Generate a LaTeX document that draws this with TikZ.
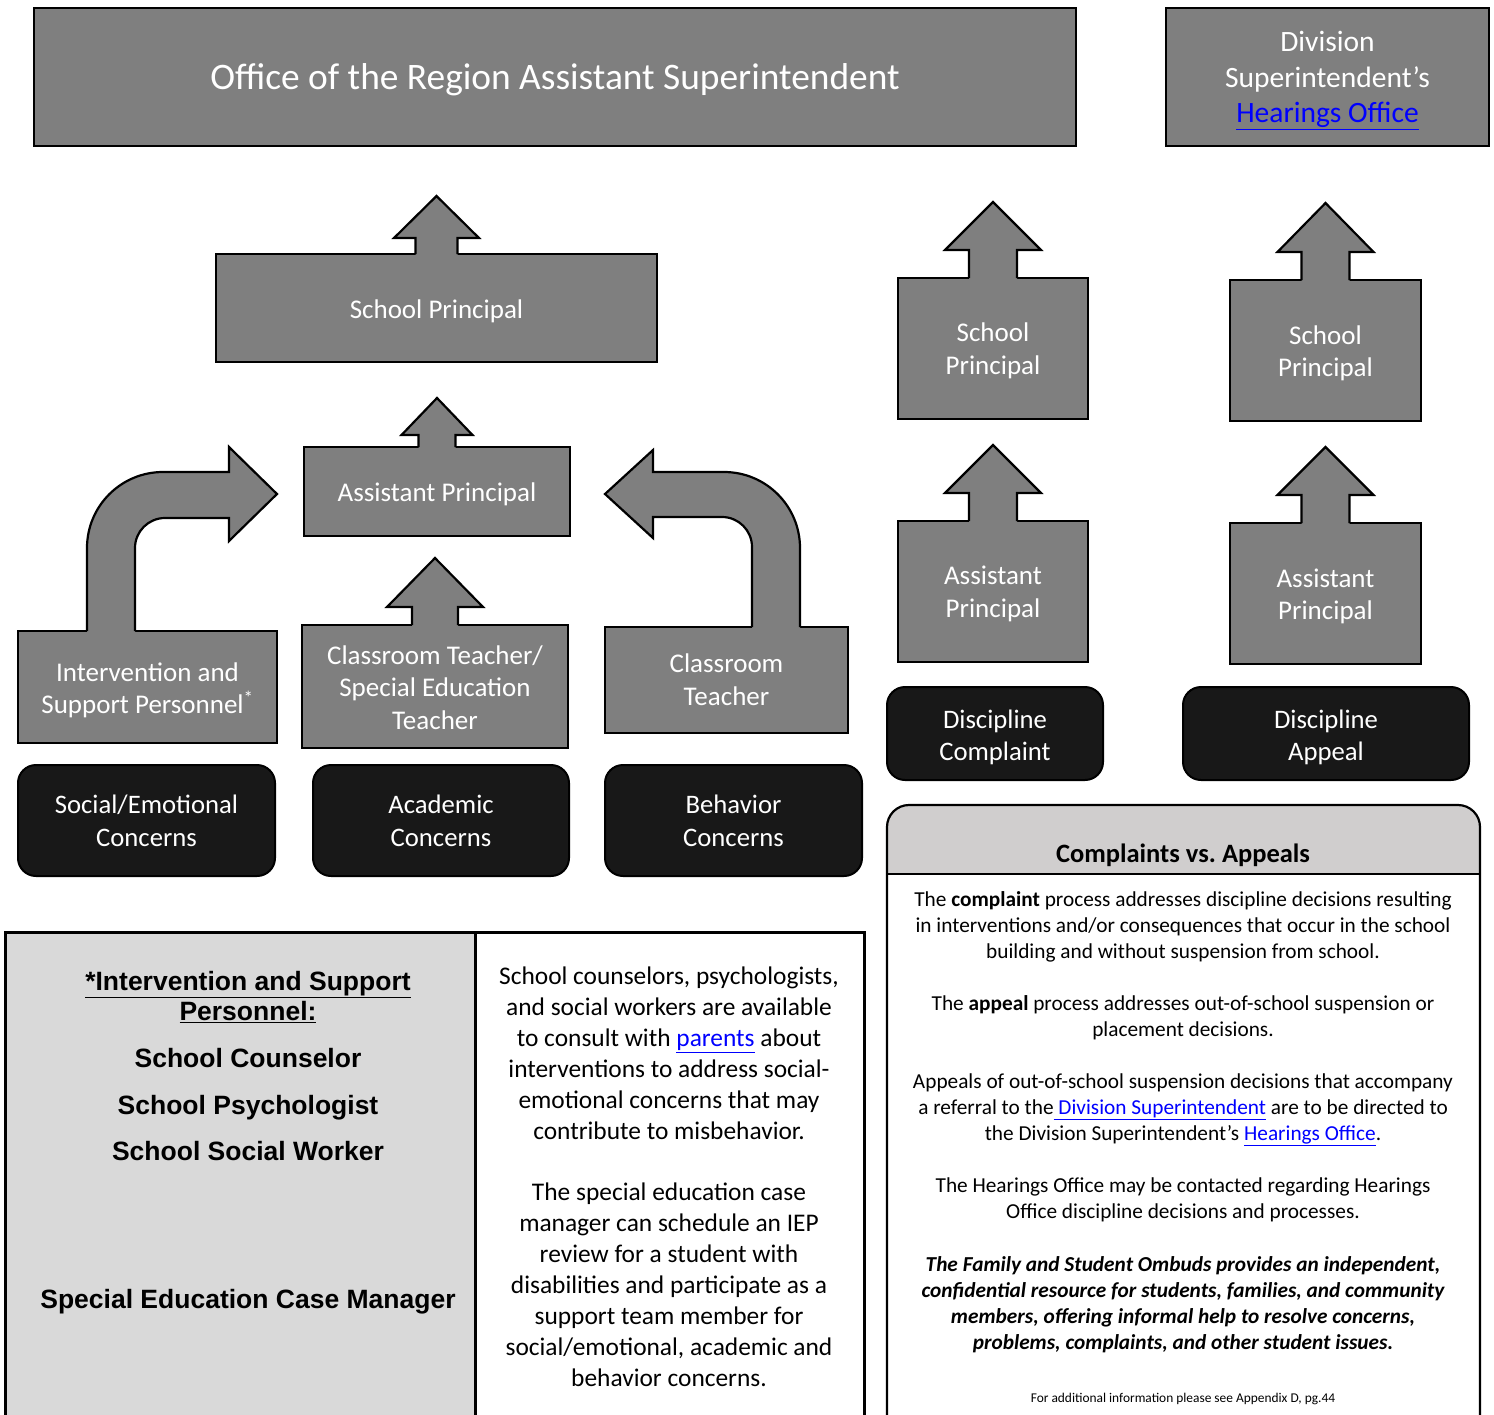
\documentclass[tikz,border=0pt]{standalone}
\usepackage{fontspec}
\setmainfont{Carlito}
\newfontfamily\arialfont{Liberation Sans}
\usetikzlibrary{calc}
\definecolor{boxgray}{HTML}{7F7F7F}
\definecolor{boxblack}{HTML}{181818}
\definecolor{panelgray}{HTML}{D9D9D9}
\definecolor{headgray}{HTML}{D0CECE}
\definecolor{linkblue}{HTML}{0000FF}
\newcommand{\lnk}[1]{\textcolor{linkblue}{\underline{#1}}}
\tikzset{
  gbox/.style={draw=black, line width=2.2pt, fill=boxgray, inner sep=0pt, outer sep=0pt},
  bbox/.style={draw=black, line width=2pt, fill=boxblack, rounded corners=18pt, inner sep=0pt, outer sep=0pt},
  gtext/.style={text=white, inner sep=0pt, align=center, font=\fontsize{27}{32.5}\selectfont, text height=17.4pt, text depth=0pt},
  gtexttwo/.style={gtext, text height=49.9pt},
  gtextthree/.style={gtext, text height=82.4pt},
  btext/.style={text=white, inner sep=0pt, align=center, font=\fontsize{26.7}{32.5}\selectfont, text height=49.7pt, text depth=0pt},
  arrowline/.style={draw=black, line width=2.2pt, line join=miter},
  pics/uparrow/.style n args={4}{code={
    \fill[boxgray] (-#1,2) -- (-#1,-#3) -- (-#2,-#3) -- (0,-#4) -- (#2,-#3) -- (#1,-#3) -- (#1,2) -- cycle;
    \draw[arrowline] (-#1,0) -- (-#1,-#3) -- (-#2,-#3) -- (0,-#4) -- (#2,-#3) -- (#1,-#3) -- (#1,0);
  }},
  lefttext/.style={font=\arialfont\bfseries\fontsize{26.5}{30}\selectfont, inner sep=0pt, anchor=base},
  midtext/.style={font=\fontsize{25.4}{31}\selectfont, inner sep=0pt, align=center},
  righttext/.style={font=\fontsize{21.3}{26}\selectfont, inner sep=0pt, align=center}
}
\frenchspacing
\begin{document}
\begin{tikzpicture}[x=1pt,y=-1pt]
\useasboundingbox (0,0) rectangle (1494,1414);
\clip (0,0) rectangle (1494,1414);

% top row
\node[gbox, minimum width=1042pt, minimum height=138pt] (office) at (555,77) {};
\node[gtext, font=\fontsize{37.4}{44}\selectfont, text height=24.1pt] (office-t) at (office.center) {Office of the Region Assistant Superintendent};
\node[gbox, minimum width=323pt, minimum height=138pt] (division) at (1327.5,77) {};
\node[gtext, font=\fontsize{29.5}{35.5}\selectfont, text height=90pt] (division-t) at ($(division.center)+(0,0.5)$) {Division\\Superintendent’s\\\lnk{Hearings Office}};

% left/center hierarchy
\node[gbox, minimum width=441pt, minimum height=108pt] (sp) at (436.5,308) {};
\node[gtext] (sp-t) at ($(sp.center)+(0,2)$) {School Principal};
\pic at (sp.north) {uparrow={21}{42.5}{16}{58}};
\node[gbox, minimum width=266pt, minimum height=89pt] (ap) at (437,491.5) {};
\node[gtext] (ap-t) at ($(ap.center)+(0,1.5)$) {Assistant Principal};
\pic at (ap.north) {uparrow={18.5}{35.5}{12}{49}};
\node[gbox, minimum width=259pt, minimum height=112pt] (isp) at (147.5,687) {};
\node[gtexttwo] (isp-t) at ($(isp.center)+(0,2)$) {Intervention and\\Support Personnel\textsuperscript{*}};
\node[gbox, minimum width=266pt, minimum height=123pt] (ctse) at (435,686.5) {};
\node[gtextthree] (ctse-t) at ($(ctse.center)+(0,1.5)$) {Classroom Teacher/\\Special Education\\Teacher};
\pic at (ctse.north) {uparrow={23}{48}{18}{67}};
\node[gbox, minimum width=243pt, minimum height=106pt] (ct) at (726.5,680) {};
\node[gtexttwo] (ct-t) at ($(ct.center)+(0,0.5)$) {Classroom\\Teacher};

% bent arrow from intervention personnel
\fill[boxgray] (87,634) -- (87,548) .. controls (87,506) and (121,472) .. (163,472) -- (229,472) -- (229,447) -- (277,494) -- (229,541) -- (229,518) -- (165,518) .. controls (148.4,518) and (135,531.4) .. (135,548) -- (135,634) -- cycle;
\draw[arrowline] (87,631) -- (87,548) .. controls (87,506) and (121,472) .. (163,472) -- (229,472) -- (229,447) -- (277,494) -- (229,541) -- (229,518) -- (165,518) .. controls (148.4,518) and (135,531.4) .. (135,548) -- (135,631);
% bent arrow from classroom teacher
\fill[boxgray] (800,630) -- (800,548) .. controls (800,506) and (766,472) .. (724,472) -- (653,472) -- (653,450) -- (605,494) -- (653,538) -- (653,517) -- (722,517) .. controls (738.6,517) and (752,530.4) .. (752,547) -- (752,630) -- cycle;
\draw[arrowline] (800,627) -- (800,548) .. controls (800,506) and (766,472) .. (724,472) -- (653,472) -- (653,450) -- (605,494) -- (653,538) -- (653,517) -- (722,517) .. controls (738.6,517) and (752,530.4) .. (752,547) -- (752,627);

% concerns
\node[bbox, minimum width=257pt, minimum height=111pt] (sec) at (146.5,820.5) {};
\node[btext] (sec-t) at ($(sec.center)+(0,1)$) {Social/Emotional\\Concerns};
\node[bbox, minimum width=256pt, minimum height=111pt] (acc) at (441,820.5) {};
\node[btext] (acc-t) at ($(acc.center)+(0,1)$) {Academic\\Concerns};
\node[bbox, minimum width=257pt, minimum height=111pt] (bec) at (733.5,820.5) {};
\node[btext] (bec-t) at ($(bec.center)+(0,1)$) {Behavior\\Concerns};

% right columns
\node[gbox, minimum width=190pt, minimum height=141pt] (sp1) at (993,348.5) {};
\node[gtexttwo] (sp1-t) at ($(sp1.center)+(0,1)$) {School\\Principal};
\pic at (sp1.north) {uparrow={24}{48}{28}{76}};
\node[gbox, minimum width=190pt, minimum height=141pt] (ap1) at (993,591.5) {};
\node[gtexttwo] (ap1-t) at ($(ap1.center)+(0,1)$) {Assistant\\Principal};
\pic at (ap1.north) {uparrow={24}{48}{28}{76}};
\node[gbox, minimum width=191pt, minimum height=141pt] (sp2) at (1325.5,350.5) {};
\node[gtexttwo] (sp2-t) at ($(sp2.center)+(0,1.5)$) {School\\Principal};
\pic at (sp2.north) {uparrow={24}{48}{28}{77}};
\node[gbox, minimum width=191pt, minimum height=141pt] (ap2) at (1325.5,593.5) {};
\node[gtexttwo] (ap2-t) at ($(ap2.center)+(0,1.5)$) {Assistant\\Principal};
\pic at (ap2.north) {uparrow={24}{48}{28}{76}};
\node[bbox, minimum width=216pt, minimum height=93pt] (dc) at (995,733.5) {};
\node[btext] (dc-t) at ($(dc.center)+(0,2.5)$) {Discipline\\Complaint};
\node[bbox, minimum width=286pt, minimum height=93pt] (da) at (1326,733.5) {};
\node[btext] (da-t) at ($(da.center)+(0,2.5)$) {Discipline\\Appeal};

% bottom-left panels
\draw[line width=3pt, fill=panelgray] (5,932) rectangle (475,1440);
\draw[line width=3pt, fill=white] (475,932) rectangle (864,1440);
\node[lefttext] (l1) at (248,990.7) {\underline{*Intervention and Support}};
\node[lefttext] (l2) at (248,1020.7) {\underline{Personnel:}};
\node[lefttext] (l3) at (248,1067.7) {School Counselor};
\node[lefttext] (l4) at (248,1114.7) {School Psychologist};
\node[lefttext] (l5) at (248,1160.7) {School Social Worker};
\node[lefttext] (l6) at (248,1308.7) {Special Education Case Manager};

\node[midtext] (m1) at (669,1053) {School counselors, psychologists,\\and social workers are available\\to consult with \lnk{parents} about\\interventions to address social-\\emotional concerns that may\\contribute to misbehavior.};
\node[midtext] (m2) at (669,1285) {The special education case\\manager can schedule an IEP\\review for a student with\\disabilities and participate as a\\support team member for\\social/emotional, academic and\\behavior concerns.};

% right panel
\fill[white, rounded corners=22pt] (887,1440) -- (887,805) -- (1480,805) -- (1480,1440) -- cycle;
\begin{scope}
  \clip (880,800) rectangle (1490,874);
  \fill[headgray, rounded corners=22pt] (887,1440) -- (887,805) -- (1480,805) -- (1480,1440) -- cycle;
\end{scope}
\draw[line width=2pt] (887,874) -- (1480,874);
\draw[line width=2.2pt, rounded corners=22pt] (887,1440) -- (887,805) -- (1480,805) -- (1480,1440);
\node[font=\bfseries\fontsize{26.5}{31}\selectfont, inner sep=0pt] (cvt) at (1183,855) {Complaints vs. Appeals};
\node[righttext] (r1) at (1183,927) {The \textbf{complaint} process addresses discipline decisions resulting\\in interventions and/or consequences that occur in the school\\building and without suspension from school.};
\node[righttext] (r2) at (1183,1018) {The \textbf{appeal} process addresses out-of-school suspension or\\placement decisions.};
\node[righttext] (r3) at (1183,1109.5) {Appeals of out-of-school suspension decisions that accompany\\a referral to the\lnk{ Division Superintendent} are to be directed to\\the Division Superintendent’s \lnk{Hearings Office}.};
\node[righttext] (r4) at (1183,1200) {The Hearings Office may be contacted regarding Hearings\\Office discipline decisions and processes.};
\node[righttext, font=\bfseries\itshape\fontsize{21.3}{26}\selectfont] (r5) at (1183,1305) {The Family and Student Ombuds provides an independent,\\confidential resource for students, families, and community\\members, offering informal help to resolve concerns,\\problems, complaints, and other student issues.};
\node[font=\fontsize{13.4}{16}\selectfont, inner sep=0pt] (r6) at (1183,1399) {For additional information please see Appendix D, pg.44};
\end{tikzpicture}
\end{document}
